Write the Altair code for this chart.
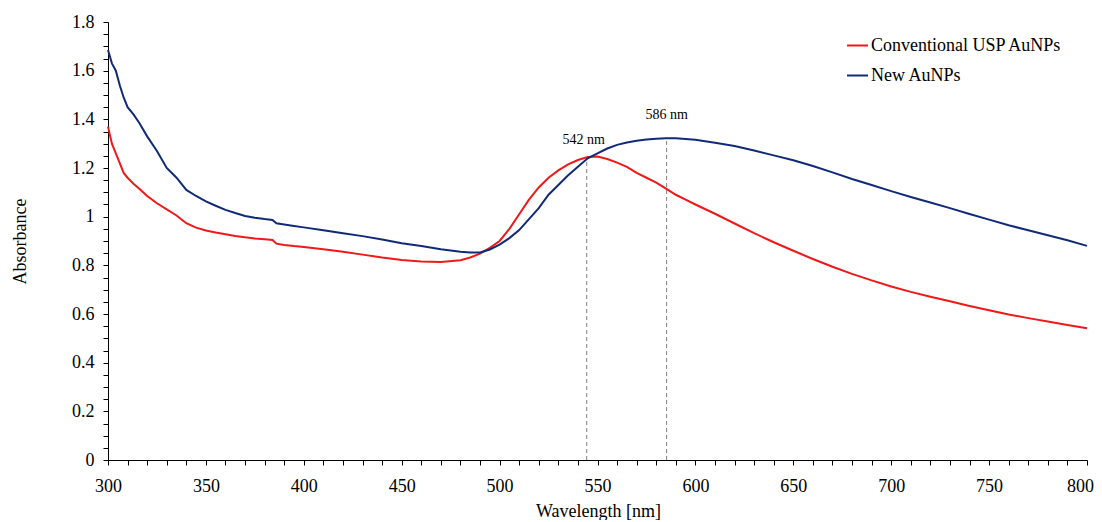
import altair as alt
import pandas as pd

wavelength = [300, 302, 304, 306, 308, 310, 313, 316, 320, 325, 330, 335, 340, 345, 350, 355, 360,
              365, 370, 375, 380, 384, 386, 390, 395, 400, 410, 420, 430, 440, 450, 460, 470, 480,
              485, 490, 495, 500, 505, 510, 515, 520, 525, 530, 535, 540, 545, 550, 555, 560, 565,
              570, 575, 580, 585, 590, 595, 600, 610, 620, 630, 640, 650, 660, 670, 680, 690, 700,
              710, 720, 730, 740, 750, 760, 770, 780, 790, 800]

conventional = [1.37, 1.30, 1.26, 1.22, 1.18, 1.16, 1.135, 1.115, 1.085, 1.055, 1.03, 1.005, 0.973,
                0.955, 0.943, 0.935, 0.928, 0.921, 0.915, 0.91, 0.907, 0.904, 0.889, 0.884, 0.879,
                0.875, 0.866, 0.856, 0.844, 0.832, 0.822, 0.816, 0.814, 0.821, 0.832, 0.848, 0.872,
                0.9, 0.95, 1.01, 1.07, 1.12, 1.16, 1.19, 1.215, 1.233, 1.245, 1.247, 1.237, 1.222,
                1.205, 1.18, 1.16, 1.14, 1.115, 1.09, 1.07, 1.05, 1.012, 0.972, 0.932, 0.895,
                0.86, 0.826, 0.794, 0.765, 0.738, 0.713, 0.691, 0.671, 0.652, 0.633, 0.615,
                0.598, 0.583, 0.569, 0.555, 0.541]

new = [1.685, 1.63, 1.60, 1.54, 1.49, 1.45, 1.42, 1.385, 1.33, 1.27, 1.20, 1.16, 1.11, 1.085, 1.063,
       1.045, 1.028, 1.015, 1.003, 0.996, 0.99, 0.986, 0.973, 0.968, 0.962, 0.956, 0.944, 0.932,
       0.92, 0.906, 0.891, 0.879, 0.866, 0.856, 0.853, 0.853, 0.865, 0.885, 0.912, 0.945, 0.99,
       1.035, 1.09, 1.13, 1.17, 1.205, 1.24, 1.26, 1.28, 1.295, 1.305, 1.312, 1.317, 1.32, 1.322,
       1.322, 1.319, 1.316, 1.304, 1.29, 1.272, 1.252, 1.232, 1.208, 1.182, 1.155, 1.13, 1.105,
       1.081, 1.058, 1.035, 1.011, 0.988, 0.965, 0.944, 0.924, 0.903, 0.88]

series_names = ["Conventional USP AuNPs", "New AuNPs"]
series_colors = ["#f01818", "#102a78"]

peak_x = [544.5, 585.3]
peak_y = [1.245, 1.322]
peak_label = ["542 nm", "586 nm"]
peak_label_x = [543.0, 585.3]
peak_label_y = [1.315, 1.418]

x_ticks = list(range(300, 801, 10))
y_ticks = [round(i * 0.05, 2) for i in range(0, 37)]

FONT = "Liberation Serif"

df = pd.DataFrame({
    "wl": wavelength * 2,
    "abs": conventional + new,
    "series": [series_names[0]] * len(wavelength) + [series_names[1]] * len(wavelength),
    "order": list(range(len(wavelength))) * 2,
})
peaks = pd.DataFrame({"x": peak_x, "y": peak_y, "y0": [0, 0]})
labels = pd.DataFrame({"x": peak_label_x, "y": peak_label_y, "t": peak_label})

xscale = alt.Scale(domain=[300, 800], nice=False, zero=False)
yscale = alt.Scale(domain=[0, 1.8], nice=False)

xaxis = alt.Axis(values=x_ticks,
                 labelExpr="datum.value % 50 == 0 ? toString(datum.value) : ''",
                 labelOffset={"condition": {"test": "datum.value == 800", "value": -7},
                              "value": 0},
                 title="Wavelength [nm]", grid=False, tickSize=5, labelPadding=12,
                 labelOverlap=False, labelFlush=False, titleX=490, titleY=51,
                 titleBaseline="middle")
yaxis = alt.Axis(values=y_ticks,
                 labelExpr="abs(datum.value*5 - round(datum.value*5)) < 0.001 ? toString(round(datum.value*10)/10) : ''",
                 title="Absorbance", grid=False, tickSize=5, labelPadding=9,
                 labelOverlap=False, labelFlush=False, titleX=-88, titleY=219,
                 titleBaseline="middle")

X = lambda f: alt.X(f, scale=xscale, axis=xaxis)
Y = lambda f: alt.Y(f, scale=yscale, axis=yaxis)

lines = alt.Chart(df).mark_line(strokeWidth=2, interpolate="linear").encode(
    x=X("wl:Q"),
    y=Y("abs:Q"),
    order="order:Q",
    color=alt.Color("series:N",
                    scale=alt.Scale(domain=series_names, range=series_colors),
                    sort=series_names,
                    legend=alt.Legend(title=None, orient="none", legendX=738, legendY=12,
                                      symbolType="stroke", symbolSize=441,
                                      symbolStrokeWidth=2, labelFont=FONT,
                                      labelFontSize=18, labelOffset=2, rowPadding=9,
                                      padding=0, labelColor="#000000", labelLimit=0)),
)

rules = alt.Chart(peaks).mark_rule(color="#7f7f7f", strokeWidth=1, strokeDash=[4, 3]).encode(
    x=X("x:Q"),
    y=Y("y0:Q"),
    y2="y:Q",
)

texts = alt.Chart(labels).mark_text(font=FONT, fontSize=14, color="#000000").encode(
    x=X("x:Q"),
    y=Y("y:Q"),
    text="t:N",
)

chart = alt.layer(rules, lines, texts).properties(
    width=979, height=438,
    autosize=alt.AutoSizeParams(type="none"),
    padding={"left": 100, "top": 14, "right": 7, "bottom": 60},
).configure_view(stroke=None).configure_axis(
    labelFont=FONT, titleFont=FONT, labelFontSize=18, titleFontSize=18,
    titleFontWeight="normal", labelColor="#000000", titleColor="#000000",
    domainColor="#000000", tickColor="#000000", domainWidth=1, tickWidth=1,
)

chart.save("out.html", embed_options={"renderer": "svg", "actions": False})
